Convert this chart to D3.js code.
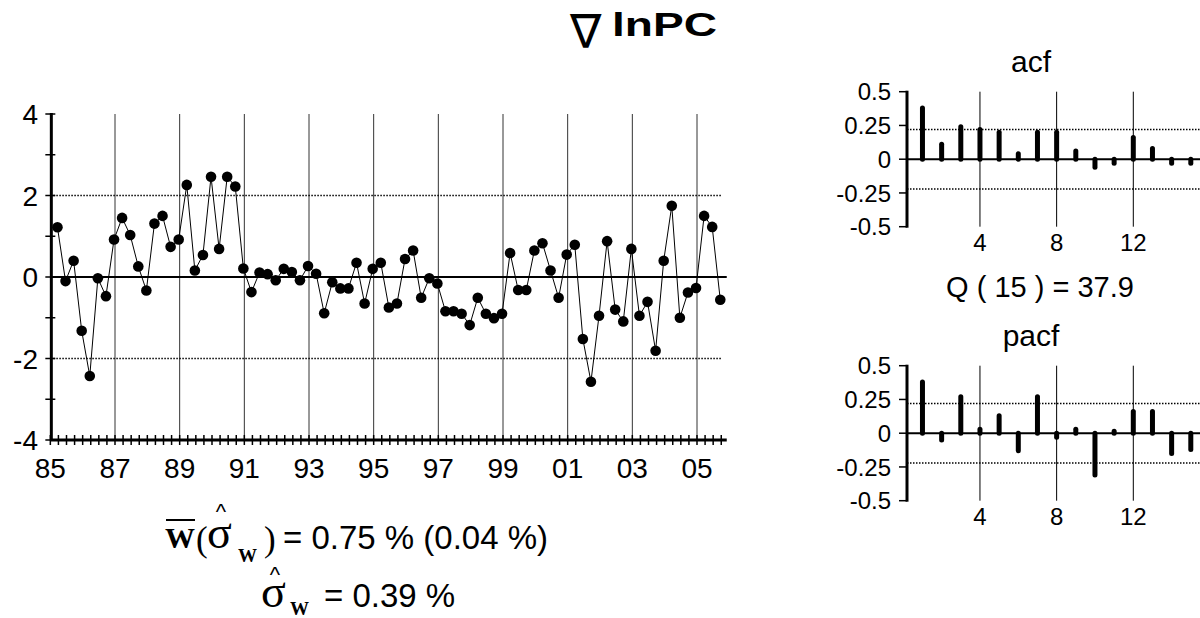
<!DOCTYPE html>
<html>
<head>
<meta charset="utf-8">
<script src="https://cdn.jsdelivr.net/npm/d3@7"></script>
<style>
    body { margin: 0; background: #fff; }
</style>
</head>
<body>
<script>
"use strict";

// quarterly first differences of ln PC, 1985 Q2 .. 2005 Q4
var firstQuarter = 1985.25;
var dlnPC = [
    1.22, -0.10, 0.40, -1.32, -2.43, -0.03, -0.47, 0.92, 1.45, 1.03,
    0.26, -0.33, 1.31, 1.50, 0.74, 0.92, 2.26, 0.16, 0.54, 2.46,
    0.69, 2.46, 2.22, 0.21, -0.37, 0.11, 0.07, -0.08, 0.20, 0.12,
    -0.08, 0.27, 0.08, -0.89, -0.13, -0.28, -0.28, 0.35, -0.65, 0.20,
    0.35, -0.75, -0.65, 0.44, 0.65, -0.51, -0.03, -0.16, -0.84, -0.84,
    -0.90, -1.18, -0.51, -0.90, -1.01, -0.90, 0.59, -0.32, -0.32, 0.65,
    0.83, 0.16, -0.51, 0.55, 0.79, -1.52, -2.57, -0.95, 0.88, -0.80,
    -1.09, 0.69, -0.95, -0.61, -1.81, 0.40, 1.75, -1.00, -0.38, -0.27,
    1.50, 1.23, -0.56
];
var yTicks = [-4, -2, 0, 2, 4];
var yBands = [-2, 2];
var yearTicks = [1985, 1987, 1989, 1991, 1993, 1995, 1997, 1999, 2001, 2003, 2005];
var yearLabels = ["85", "87", "89", "91", "93", "95", "97", "99", "01", "03", "05"];

var lags = [1, 2, 3, 4, 5, 6, 7, 8, 9, 10, 11, 12, 13, 14, 15];
var acfValues = [0.38, 0.11, 0.24, 0.22, 0.20, 0.04, 0.20, 0.20, 0.06, -0.06, -0.03, 0.16, 0.08, -0.03, -0.03];
var pacfValues = [0.38, -0.05, 0.27, 0.03, 0.13, -0.13, 0.27, -0.03, 0.03, -0.31, 0.015, 0.16, 0.16, -0.15, -0.12];
var corrTicks = [0.5, 0.25, 0, -0.25, -0.5];
var corrTickLabels = ["0.5", "0.25", "0", "-0.25", "-0.5"];
var lagTicks = [4, 8, 12];
var corrBand = 0.22;
var qText = "Q ( 15 ) = 37.9";

var widthEcran = 1200, heightEcran = 618;
var sans = "Liberation Sans, Arial, sans-serif";
var serif = "Liberation Serif, Times New Roman, serif";

function baseCanvas() {
    return d3.select("body").append("svg")
        .attr("width", widthEcran)
        .attr("height", heightEcran)
        .attr("font-family", sans);
}

function drawTitle(canvas) {
    canvas.append("text")
        .attr("x", 570).attr("y", 48)
        .attr("font-family", "DejaVu Sans")
        .attr("font-size", 47)
        .text("\u2207");
    canvas.append("text")
        .attr("x", 612).attr("y", 36)
        .attr("font-size", 33)
        .attr("font-weight", "bold")
        .attr("textLength", 105)
        .attr("lengthAdjust", "spacingAndGlyphs")
        .text("lnPC");
}

function drawSeries(canvas) {
    var x = d3.scaleLinear().domain([1987, 2005]).range([115, 697]);
    var y = d3.scaleLinear().domain([-4, 4]).range([440, 114]);
    var xEnd = 2005.92;
    var g = canvas.append("g");

    // vertical grid at every second year
    g.selectAll(".vgrid").data(yearTicks.slice(1)).enter().append("line")
        .attr("x1", d => x(d)).attr("x2", d => x(d))
        .attr("y1", y(4)).attr("y2", y(-4))
        .attr("stroke", "#333").attr("stroke-width", 1);

    g.selectAll(".band").data(yBands).enter().append("line")
        .attr("x1", x(1985)).attr("x2", x(2005.75))
        .attr("y1", d => y(d)).attr("y2", d => y(d))
        .attr("stroke", "#000").attr("stroke-width", 1.5)
        .attr("stroke-dasharray", "1.5,1.5");

    g.append("line")
        .attr("x1", x(1985)).attr("x2", x(xEnd))
        .attr("y1", y(0)).attr("y2", y(0))
        .attr("stroke", "#000").attr("stroke-width", 2);

    // y axis
    g.append("line")
        .attr("x1", x(1985) + 1).attr("x2", x(1985) + 1)
        .attr("y1", y(4) - 1).attr("y2", y(-4) + 1)
        .attr("stroke", "#000").attr("stroke-width", 3);
    g.selectAll(".ytick").data(d3.range(-4, 5)).enter().append("line")
        .attr("x1", x(1985) - 5).attr("x2", x(1985) + 5)
        .attr("y1", d => y(d)).attr("y2", d => y(d))
        .attr("stroke", "#000").attr("stroke-width", 1.5);
    g.selectAll(".ylab").data(yTicks).enter().append("text")
        .attr("x", 38).attr("y", d => y(d))
        .attr("dy", "0.36em")
        .attr("text-anchor", "end")
        .attr("font-size", 28)
        .text(d => d);

    // x axis with quarterly ticks
    g.append("line")
        .attr("x1", x(1985)).attr("x2", x(xEnd))
        .attr("y1", y(-4)).attr("y2", y(-4))
        .attr("stroke", "#000").attr("stroke-width", 3);
    g.selectAll(".xtick").data(d3.range(1985, 2005.8, 0.25)).enter().append("line")
        .attr("x1", d => x(d)).attr("x2", d => x(d))
        .attr("y1", y(-4) - 5).attr("y2", y(-4) + 5)
        .attr("stroke", "#000").attr("stroke-width", 1.5);
    g.selectAll(".xlab").data(yearTicks).enter().append("text")
        .attr("x", d => x(d)).attr("y", 478)
        .attr("text-anchor", "middle")
        .attr("font-size", 28)
        .text((d, i) => yearLabels[i]);

    var pts = dlnPC.map((v, i) => [firstQuarter + i * 0.25 - 0.03, v]);
    g.append("path")
        .datum(pts)
        .attr("d", d3.line().x(d => x(d[0])).y(d => y(d[1])))
        .attr("fill", "none")
        .attr("stroke", "#000").attr("stroke-width", 1);
    g.selectAll(".pt").data(pts).enter().append("circle")
        .attr("cx", d => x(d[0])).attr("cy", d => y(d[1]))
        .attr("r", 5.3)
        .attr("fill", "#000");
}

function drawCorr(canvas, values, top, title) {
    var x = d3.scaleLinear().domain([0, 15]).range([903.3, 1190.8]);
    var y = d3.scaleLinear().domain([-0.5, 0.5]).range([top + 135, top]);
    var axisX = 907;
    var g = canvas.append("g");

    canvas.append("text")
        .attr("x", 1031).attr("y", top - 20)
        .attr("text-anchor", "middle")
        .attr("font-size", 30)
        .text(title);

    g.selectAll(".vgrid").data(lagTicks).enter().append("line")
        .attr("x1", d => x(d)).attr("x2", d => x(d))
        .attr("y1", y(0.5)).attr("y2", y(-0.5))
        .attr("stroke", "#000").attr("stroke-width", 1);
    g.selectAll(".lagLab").data(lagTicks).enter().append("text")
        .attr("x", d => x(d)).attr("y", y(-0.5) + 24)
        .attr("text-anchor", "middle")
        .attr("font-size", 24)
        .text(d => d);

    g.selectAll(".band").data([-corrBand, corrBand]).enter().append("line")
        .attr("x1", axisX).attr("x2", widthEcran)
        .attr("y1", d => y(d)).attr("y2", d => y(d))
        .attr("stroke", "#000").attr("stroke-width", 1.5)
        .attr("stroke-dasharray", "1.5,1.5");
    g.append("line")
        .attr("x1", axisX).attr("x2", widthEcran)
        .attr("y1", y(0)).attr("y2", y(0))
        .attr("stroke", "#000").attr("stroke-width", 2);

    g.append("line")
        .attr("x1", axisX).attr("x2", axisX)
        .attr("y1", y(0.5) - 1).attr("y2", y(-0.5) + 1)
        .attr("stroke", "#000").attr("stroke-width", 3);
    g.selectAll(".ytick").data(corrTicks).enter().append("line")
        .attr("x1", axisX - 8).attr("x2", axisX)
        .attr("y1", d => y(d)).attr("y2", d => y(d))
        .attr("stroke", "#000").attr("stroke-width", 1.5);
    g.selectAll(".ylab").data(corrTicks).enter().append("text")
        .attr("x", 891).attr("y", d => y(d))
        .attr("dy", "0.36em")
        .attr("text-anchor", "end")
        .attr("font-size", 24)
        .text((d, i) => corrTickLabels[i]);

    g.selectAll(".bar").data(values).enter().append("line")
        .attr("x1", (d, i) => x(lags[i])).attr("x2", (d, i) => x(lags[i]))
        .attr("y1", y(0))
        .attr("y2", d => y(d))
        .attr("stroke", "#000").attr("stroke-width", 5)
        .attr("stroke-linecap", "round");
}

function drawStats(canvas) {
    // first line: mean (std. error)
    canvas.append("text").attr("x", 165).attr("y", 548)
        .attr("font-family", serif).attr("font-weight", "bold").attr("font-size", 30)
        .text("W");
    canvas.append("line")
        .attr("x1", 166).attr("x2", 195).attr("y1", 520).attr("y2", 520)
        .attr("stroke", "#000").attr("stroke-width", 2);
    canvas.append("text").attr("x", 196).attr("y", 551)
        .attr("font-family", serif).attr("font-size", 35)
        .text("(");
    canvas.append("text").attr("x", 207).attr("y", 548)
        .attr("font-family", serif).attr("font-size", 46)
        .text("\u03c3");
    canvas.append("text").attr("x", 221).attr("y", 519)
        .attr("text-anchor", "middle").attr("font-size", 22)
        .text("^");
    canvas.append("text").attr("x", 238).attr("y", 562)
        .attr("font-family", serif).attr("font-weight", "bold").attr("font-size", 19)
        .text("W");
    canvas.append("text").attr("x", 264).attr("y", 551)
        .attr("font-family", serif).attr("font-size", 35)
        .text(")");
    canvas.append("text").attr("x", 283).attr("y", 549)
        .attr("font-size", 33)
        .text("= 0.75 % (0.04 %)");

    // second line: standard deviation
    canvas.append("text").attr("x", 261).attr("y", 607)
        .attr("font-family", serif).attr("font-size", 46)
        .text("\u03c3");
    canvas.append("text").attr("x", 275).attr("y", 582)
        .attr("text-anchor", "middle").attr("font-size", 22)
        .text("^");
    canvas.append("text").attr("x", 290).attr("y", 615)
        .attr("font-family", serif).attr("font-weight", "bold").attr("font-size", 19)
        .text("W");
    canvas.append("text").attr("x", 324).attr("y", 607)
        .attr("font-size", 33)
        .text("= 0.39 %");
}

var canvas = baseCanvas();
drawTitle(canvas);
drawSeries(canvas);
drawCorr(canvas, acfValues, 91.7, "acf");
canvas.append("text")
    .attr("x", 1040).attr("y", 297)
    .attr("text-anchor", "middle")
    .attr("font-size", 29)
    .text(qText);
drawCorr(canvas, pacfValues, 365.7, "pacf");
drawStats(canvas);
</script>
</body>
</html>
